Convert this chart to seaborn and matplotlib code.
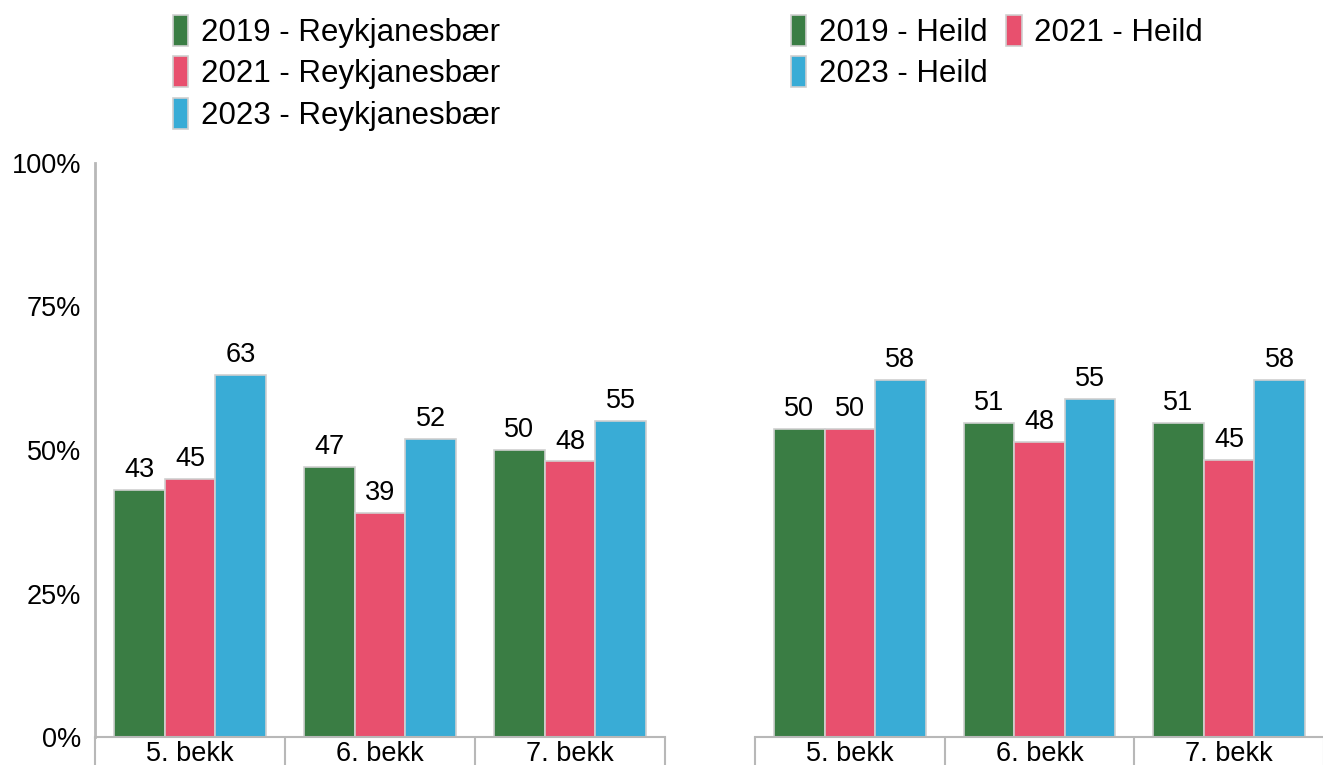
import pandas as pd
import matplotlib.pyplot as plt
import seaborn as sns
from matplotlib.ticker import FixedLocator

# Data
bekkir = ["5. bekk", "6. bekk", "7. bekk"]
ar = ["2019", "2021", "2023"]
reykjanesbaer = {
    "2019": [43, 47, 50],
    "2021": [45, 39, 48],
    "2023": [63, 52, 55],
}
heild = {
    "2019": [50, 51, 51],
    "2021": [50, 48, 45],
    "2023": [58, 55, 58],
}
litir = ["#3a7d44", "#e8506e", "#39acd6"]

def langt_snid(gogn, nafn):
    rows = []
    for a in ar:
        for b, v in zip(bekkir, gogn[a]):
            rows.append({"bekkur": b, "hopur": f"{a} - {nafn}", "gildi": v})
    return pd.DataFrame(rows)

df_r = langt_snid(reykjanesbaer, "Reykjanesbær")
df_h = langt_snid(heild, "Heild")

sns.set_style("white")
plt.rcParams["font.family"] = ["Liberation Sans", "DejaVu Sans"]
plt.rcParams["text.color"] = "black"
plt.rcParams["xtick.color"] = "black"
plt.rcParams["ytick.color"] = "black"

fig = plt.figure(figsize=(13.23, 7.65), dpi=100)
ax1 = fig.add_axes([95 / 1323, 28 / 765, 570 / 1323, 574 / 765])
ax2 = fig.add_axes([755 / 1323, 28 / 765, 569 / 1323, 574 / 765])

leg_kw = dict(loc="upper left", frameon=False, fontsize=22.5,
              handlelength=0.5, handleheight=1.15, handletextpad=0.4,
              labelspacing=0.28, borderaxespad=0)

for ax, df, ytop in [(ax1, df_r, 100), (ax2, df_h, 93.3)]:
    sns.barplot(data=df, x="bekkur", y="gildi", hue="hopur", palette=litir,
                saturation=1, width=0.8, edgecolor="#d0d0d0", linewidth=1.2,
                ax=ax)
    for c in ax.containers:
        ax.bar_label(c, fmt="%d", padding=5, fontsize=19.5)
    ax.set_ylim(0, ytop)
    ax.set_xlim(-0.5, 2.5)
    ax.set_xlabel("")
    ax.set_ylabel("")
    for s in ["top", "right"]:
        ax.spines[s].set_visible(False)
    ax.spines["bottom"].set_color("#b8b8b8")
    ax.spines["bottom"].set_linewidth(1.5)
    ax.xaxis.set_minor_locator(FixedLocator([-0.5, 0.5, 1.5, 2.5]))
    ax.tick_params(axis="x", which="major", length=0, labelsize=19.5, pad=3)
    ax.tick_params(axis="x", which="minor", length=20, width=1.5,
                   color="#b8b8b8", bottom=True)
    handles, labels = ax.get_legend_handles_labels()
    ax.get_legend().remove()
    if ax is ax1:
        fig.legend(handles, labels, bbox_to_anchor=(160 / 1323, 1 - 2 / 765),
                   ncol=1, **leg_kw)
    else:
        order = [0, 2, 1]
        fig.legend([handles[i] for i in order], [labels[i] for i in order],
                   bbox_to_anchor=(778 / 1323, 1 - 2 / 765), ncol=2,
                   columnspacing=0.6, **leg_kw)

ax1.spines["left"].set_color("#b8b8b8")
ax1.spines["left"].set_linewidth(2)
ax1.set_yticks([0, 25, 50, 75, 100])
ax1.set_yticklabels(["0%", "25%", "50%", "75%", "100%"])
ax1.tick_params(axis="y", length=0, labelsize=19.5, pad=10)

ax2.spines["left"].set_visible(False)
ax2.set_yticks([])

fig.savefig("out.png", dpi=100)
